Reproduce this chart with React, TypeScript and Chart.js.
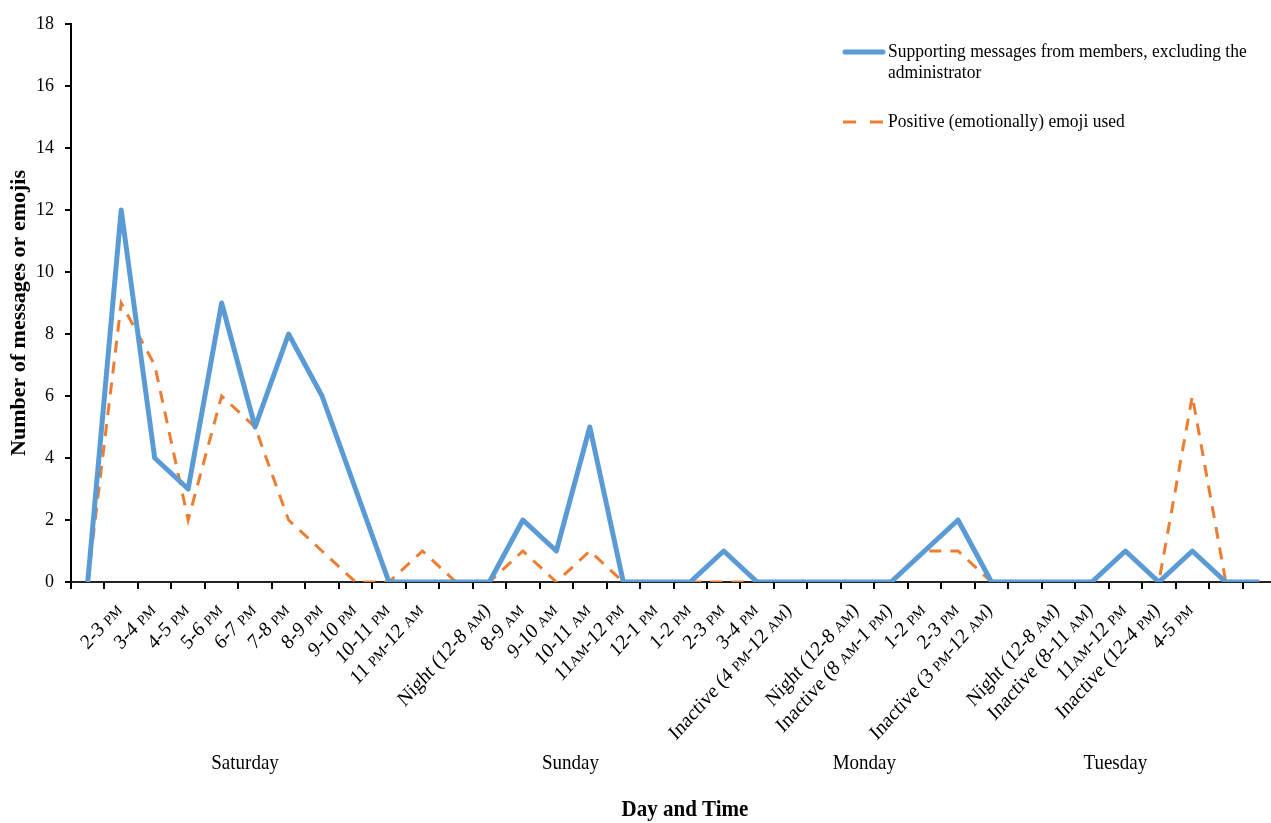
import { useEffect, useRef } from 'react';
import { Chart, registerables } from 'chart.js';

Chart.register(...registerables);

const W = 1271;
const H = 823;
const CANVAS_W = 1285; // the reference is cropped on the right; the plot runs past the page edge
const SERIF = "'Liberation Serif', 'Times New Roman', serif";
const STRETCH = 1.12;

const timeLabels: string[] = [
  '', '2-3 PM', '3-4 PM', '4-5 PM', '5-6 PM', '6-7 PM', '7-8 PM', '8-9 PM', '9-10 PM', '10-11 PM',
  '11 PM-12 AM', '', 'Night (12-8 AM)', '8-9 AM', '9-10 AM', '10-11 AM', '11AM-12 PM', '12-1 PM', '1-2 PM', '2-3 PM',
  '3-4 PM', 'Inactive (4 PM-12 AM)', '', 'Night (12-8 AM)', 'Inactive (8 AM-1 PM)', '1-2 PM', '2-3 PM', 'Inactive (3 PM-12 AM)', '', 'Night (12-8 AM)',
  'Inactive (8-11 AM)', '11AM-12 PM', 'Inactive (12-4 PM)', '4-5 PM', '', '',
];

const supportingMessages: number[] = [
  0, 12, 4, 3, 9, 5, 8, 6, 3, 0,
  0, 0, 0, 2, 1, 5, 0, 0, 0, 1,
  0, 0, 0, 0, 0, 1, 2, 0, 0, 0,
  0, 1, 0, 1, 0, 0,
];

const positiveEmoji: number[] = [
  0, 9, 7, 2, 6, 5, 2, 1, 0, 0,
  1, 0, 0, 1, 0, 1, 0, 0, 0, 0,
  0, 0, 0, 0, 0, 1, 1, 0, 0, 0,
  0, 1, 0, 6, 0, 0,
];

const dayNames: string[] = ['Saturday', 'Sunday', 'Monday', 'Tuesday'];
const dayCenters: number[] = [4.7, 14.42, 23.2, 30.7];

const seriesNames: string[][] = [
  ['Supporting messages from members, excluding the', 'administrator'],
  ['Positive (emotionally) emoji used'],
];

const yTicks: number[] = [0, 2, 4, 6, 8, 10, 12, 14, 16, 18];

const BLUE = '#5B9BD5';
const ORANGE = '#ED7D31';

const overlayPlugin = {
  id: 'overlay',
  afterDraw(chart: any) {
    const ctx: CanvasRenderingContext2D = chart.ctx;
    const xs = chart.scales.x;
    const step = xs.getPixelForValue(1) - xs.getPixelForValue(0);
    ctx.save();
    ctx.fillStyle = '#000';

    // rotated category labels with small-caps AM/PM
    timeLabels.forEach((lab, i) => {
      if (!lab) return;
      const x = xs.getPixelForValue(i);
      const segs = lab.split(/(AM|PM)/).filter((s) => s.length > 0);
      const fonts = segs.map((s) => (s === 'AM' || s === 'PM' ? `13.5px ${SERIF}` : `19px ${SERIF}`));
      let total = 0;
      const widths = segs.map((s, k) => {
        ctx.font = fonts[k];
        const w = ctx.measureText(s).width;
        total += w;
        return w;
      });
      ctx.save();
      ctx.translate(x - 2, xs.top + 25);
      ctx.scale(1, STRETCH);
      ctx.rotate(-Math.PI / 4);
      ctx.textAlign = 'left';
      ctx.textBaseline = 'alphabetic';
      let cx = -total;
      segs.forEach((s, k) => {
        ctx.font = fonts[k];
        ctx.fillText(s, cx, 5);
        cx += widths[k];
      });
      ctx.restore();
    });

    // day labels
    ctx.font = `19px ${SERIF}`;
    ctx.textAlign = 'center';
    ctx.textBaseline = 'middle';
    const x0 = xs.getPixelForValue(0);
    dayNames.forEach((d, k) => {
      ctx.save();
      ctx.translate(x0 + dayCenters[k] * step, 763);
      ctx.scale(1, STRETCH);
      ctx.fillText(d, 0, 0);
      ctx.restore();
    });

    // axis titles
    ctx.save();
    ctx.translate(685, 810);
    ctx.scale(1, STRETCH);
    ctx.font = `bold 21px ${SERIF}`;
    ctx.fillText('Day and Time', 0, 0);
    ctx.restore();

    ctx.save();
    ctx.translate(19, 313);
    ctx.rotate(-Math.PI / 2);
    ctx.font = `bold 22px ${SERIF}`;
    ctx.fillText('Number of messages or emojis', 0, 0);
    ctx.restore();

    // legend
    const lx0 = 843;
    const lx1 = 885;
    const tx = 888;
    ctx.lineCap = 'round';
    ctx.strokeStyle = BLUE;
    ctx.lineWidth = 5;
    ctx.beginPath();
    ctx.moveTo(lx0 + 2, 52);
    ctx.lineTo(lx1 - 2, 52);
    ctx.stroke();
    ctx.lineCap = 'butt';
    ctx.strokeStyle = ORANGE;
    ctx.lineWidth = 3;
    ctx.setLineDash([13, 14]);
    ctx.beginPath();
    ctx.moveTo(lx0, 122);
    ctx.lineTo(lx1, 122);
    ctx.stroke();
    ctx.setLineDash([]);

    ctx.font = `17.5px ${SERIF}`;
    ctx.textAlign = 'left';
    ctx.textBaseline = 'middle';
    seriesNames[0].forEach((line, k) => {
      ctx.save();
      ctx.translate(tx, 52 + k * 21);
      ctx.scale(1, STRETCH);
      ctx.fillText(line, 0, 0);
      ctx.restore();
    });
    seriesNames[1].forEach((line, k) => {
      ctx.save();
      ctx.translate(tx, 122 + k * 21);
      ctx.scale(1, STRETCH);
      ctx.fillText(line, 0, 0);
      ctx.restore();
    });
    ctx.restore();
  },
};

export default function App() {
  const ref = useRef<HTMLCanvasElement>(null);

  useEffect(() => {
    if (!ref.current) return;
    const chart = new Chart(ref.current, {
      type: 'line',
      data: {
        labels: timeLabels,
        datasets: [
          {
            label: seriesNames[0].join(' '),
            data: supportingMessages,
            borderColor: BLUE,
            backgroundColor: BLUE,
            borderWidth: 5,
            borderJoinStyle: 'round',
            pointRadius: 0,
            tension: 0,
            fill: false,
          },
          {
            label: seriesNames[1].join(' '),
            data: positiveEmoji,
            borderColor: ORANGE,
            backgroundColor: ORANGE,
            borderWidth: 3,
            borderDash: [12, 9],
            pointRadius: 0,
            tension: 0,
            fill: false,
          },
        ],
      },
      options: {
        responsive: false,
        animation: false,
        devicePixelRatio: 1,
        layout: { padding: { left: 0, right: 9, top: 24, bottom: 0 } },
        plugins: {
          legend: { display: false },
          tooltip: { enabled: false },
          title: { display: false },
        },
        scales: {
          x: {
            type: 'category',
            offset: true,
            grid: {
              offset: true,
              drawOnChartArea: false,
              drawTicks: true,
              tickLength: 7,
              color: '#000',
              lineWidth: 2,
            },
            border: { display: true, color: '#222', width: 2 },
            ticks: { display: false, autoSkip: false },
            afterFit: (scale: any) => {
              scale.height = H - 582;
            },
          },
          y: {
            min: 0,
            max: 18,
            afterBuildTicks: (scale: any) => {
              scale.ticks = yTicks.map((v) => ({ value: v }));
            },
            grid: {
              drawOnChartArea: false,
              drawTicks: true,
              tickLength: 6,
              color: '#000',
              lineWidth: 2,
            },
            border: { display: true, color: '#000', width: 2 },
            ticks: {
              color: '#000',
              padding: 11,
              font: { family: SERIF, size: 18 },
            },
            afterFit: (scale: any) => {
              scale.width = 71;
            },
          },
        },
      },
      plugins: [overlayPlugin],
    });
    return () => chart.destroy();
  }, []);

  return (
    <div style={{ position: 'absolute', left: 0, top: 0, width: W, height: H, overflow: 'hidden', background: '#fff' }}>
      <canvas ref={ref} width={CANVAS_W} height={H} style={{ width: CANVAS_W, height: H, display: 'block' }} />
    </div>
  );
}
